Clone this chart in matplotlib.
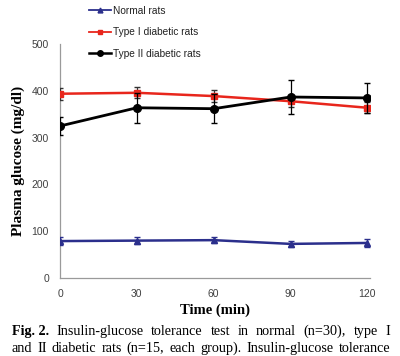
import matplotlib
matplotlib.use("Agg")
import matplotlib.pyplot as plt
from matplotlib.lines import Line2D

time = [0, 30, 60, 90, 120]
normal = [79, 80, 81, 73, 75]
normal_err = [8, 8, 7, 7, 8]
type1 = [394, 396, 389, 378, 364]
type1_err = [13, 12, 13, 12, 12]
type2 = [325, 364, 362, 387, 385]
type2_err = [20, 32, 31, 36, 33]
xticks = [0, 30, 60, 90, 120]
yticks = [0, 100, 200, 300, 400, 500]
labels = ['Normal rats', 'Type \u2160 diabetic rats', 'Type II diabetic rats']
caption1 = ['Fig. 2.', 'Insulin-glucose', 'tolerance', 'test', 'in', 'normal', '(n=30),', 'type', 'I']
caption2 = ['and', 'II', 'diabetic', 'rats', '(n=15,', 'each', 'group).', 'Insulin-glucose', 'tolerance']

fig = plt.figure(figsize=(4.0, 3.56), dpi=100)
ax = fig.add_axes([0.15, 0.219, 0.775, 0.657])

sans = ['Liberation Sans', 'DejaVu Sans']
serif = ['Liberation Serif', 'DejaVu Serif']
c_norm, c_t1, c_t2 = '#2B2F8C', '#E8261C', 'black'

ax.errorbar(time, normal, yerr=normal_err, color=c_norm, marker='^', ms=5,
            lw=1.8, capsize=2.5, elinewidth=0.9, zorder=3)
ax.errorbar(time, type1, yerr=type1_err, color=c_t1, marker='s', ms=5,
            lw=1.8, capsize=2.5, elinewidth=0.9, ecolor='#333333', zorder=3)
ax.errorbar(time, type2, yerr=type2_err, color=c_t2, marker='o', ms=5.5,
            lw=2.0, capsize=2.5, elinewidth=0.9, zorder=4)

ax.set_xlim(0, 121)
ax.set_ylim(0, 500)
ax.set_xticks(xticks)
ax.set_yticks(yticks)
ax.tick_params(length=0, labelsize=7.5, labelcolor='#404040', pad=8)
for lab in ax.get_xticklabels() + ax.get_yticklabels():
    lab.set_family(sans)
for s in ['top', 'right']:
    ax.spines[s].set_visible(False)
for s in ['left', 'bottom']:
    ax.spines[s].set_color('#9a9a9a')
    ax.spines[s].set_linewidth(0.9)

ax.set_xlabel('Time (min)', fontsize=10.5, fontweight='bold', family=serif, labelpad=3)
ax.set_ylabel('Plasma glucose (mg/dl)', fontsize=11, fontweight='bold', family=serif, labelpad=5)

handles = [Line2D([], [], color=c_norm, marker='^', ms=3.5, lw=1.3),
           Line2D([], [], color=c_t1, marker='s', ms=3.5, lw=1.3),
           Line2D([], [], color=c_t2, marker='o', ms=4, lw=1.8)]
leg = fig.legend(handles, labels, loc='upper left', bbox_to_anchor=(0.2, 1.01), frameon=False,
                 prop={'family': sans, 'size': 7.3}, handlelength=2.2,
                 labelspacing=1.15, handletextpad=0.2)
for t in leg.get_texts():
    t.set_color('#222222')

# justified caption
fig.canvas.draw()
renderer = fig.canvas.get_renderer()
W = fig.bbox.width
x0, x1 = 12, 390

def justify(words, ypix, bold_n=0):
    items = []
    for i, w in enumerate(words):
        t = fig.text(0, 0, w, fontsize=10.2, family=serif,
                     fontweight='bold' if i < bold_n else 'normal')
        wd = t.get_window_extent(renderer).width
        items.append((t, wd))
    total = sum(wd for _, wd in items)
    gap = (x1 - x0 - total) / (len(items) - 1)
    x = x0
    for t, wd in items:
        t.set_position((x / W, 1 - ypix / fig.bbox.height))
        x += wd + gap

justify(caption1, 335, bold_n=1)
justify(caption2, 352)

fig.savefig('out.png', dpi=100)
